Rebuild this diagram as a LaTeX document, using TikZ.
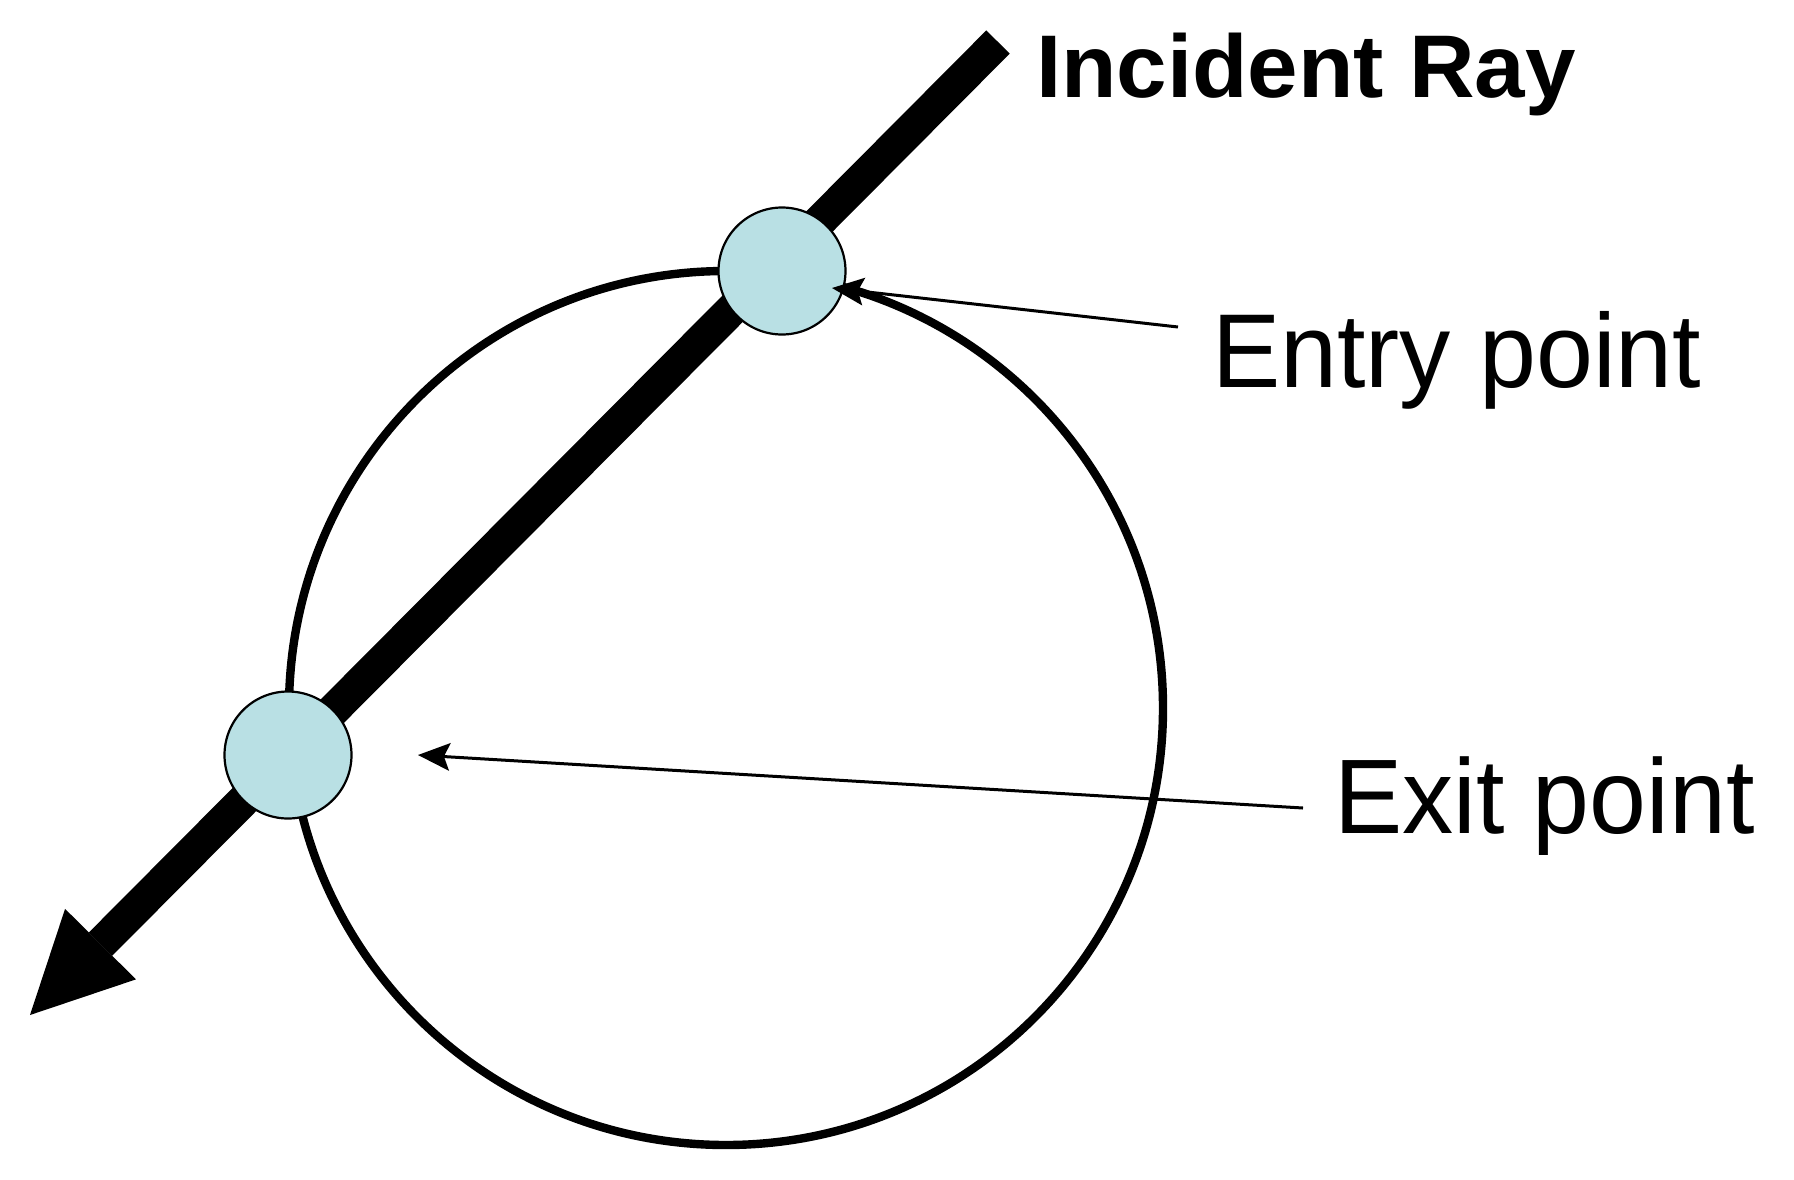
\documentclass[tikz,border=0pt]{standalone}
\usepackage{fontspec}
\setmainfont{Liberation Sans}
\newfontfamily\entfont[FakeStretch=0.975]{Liberation Sans}
\newfontfamily\extfont[FakeStretch=0.965]{Liberation Sans}
\newfontfamily\labbfont[FakeStretch=1.02]{Liberation Sans}
\usetikzlibrary{arrows.meta}
\definecolor{dotcyan}{RGB}{185,224,228}
\begin{document}
\begin{tikzpicture}[x=0.5pt,y=-0.5pt,
  sphere/.style={circle,draw=black,line width=4.2pt,minimum size=437pt,inner sep=0pt},
  hitdot/.style={circle,draw=black,fill=dotcyan,line width=1.1pt,minimum size=63.5pt,inner sep=0pt},
  rayline/.style={line width=16.5pt,-{Triangle[length=50pt,width=50pt,line width=0pt]}},
  pointer/.style={line width=1.5pt,-{Stealth[length=16pt,width=14pt,inset=3pt,line width=0pt]}},
  lab/.style={anchor=base west,inner sep=0pt,outer sep=0pt},
]
\useasboundingbox (0,0) rectangle (1794,1179);
\node[sphere] (sph) at (726,708) {};
\coordinate (raytail) at (998,42);
\coordinate (raytip) at (30,1015);
\draw[rayline] (raytail) -- (raytip);
\node[hitdot] (entry) at (782,271) {};
\node[hitdot] (exit) at (288,755) {};
\node[lab] (inc) at (1036,97) {\labbfont\bfseries\fontsize{44.5pt}{50pt}\selectfont Incident Ray};
\node[lab] (ent) at (1212,387) {\entfont\fontsize{52.5pt}{60pt}\selectfont Entry point};
\node[lab] (ext) at (1334,833) {\extfont\fontsize{53pt}{60pt}\selectfont Exit point};
\coordinate (entrytail) at (1178,327);
\coordinate (entrytip) at (832,288);
\coordinate (exittail) at (1303,808);
\coordinate (exittip) at (418,755);
\draw[pointer] (entrytail) -- (entrytip);
\draw[pointer] (exittail) -- (exittip);
\end{tikzpicture}
\end{document}
